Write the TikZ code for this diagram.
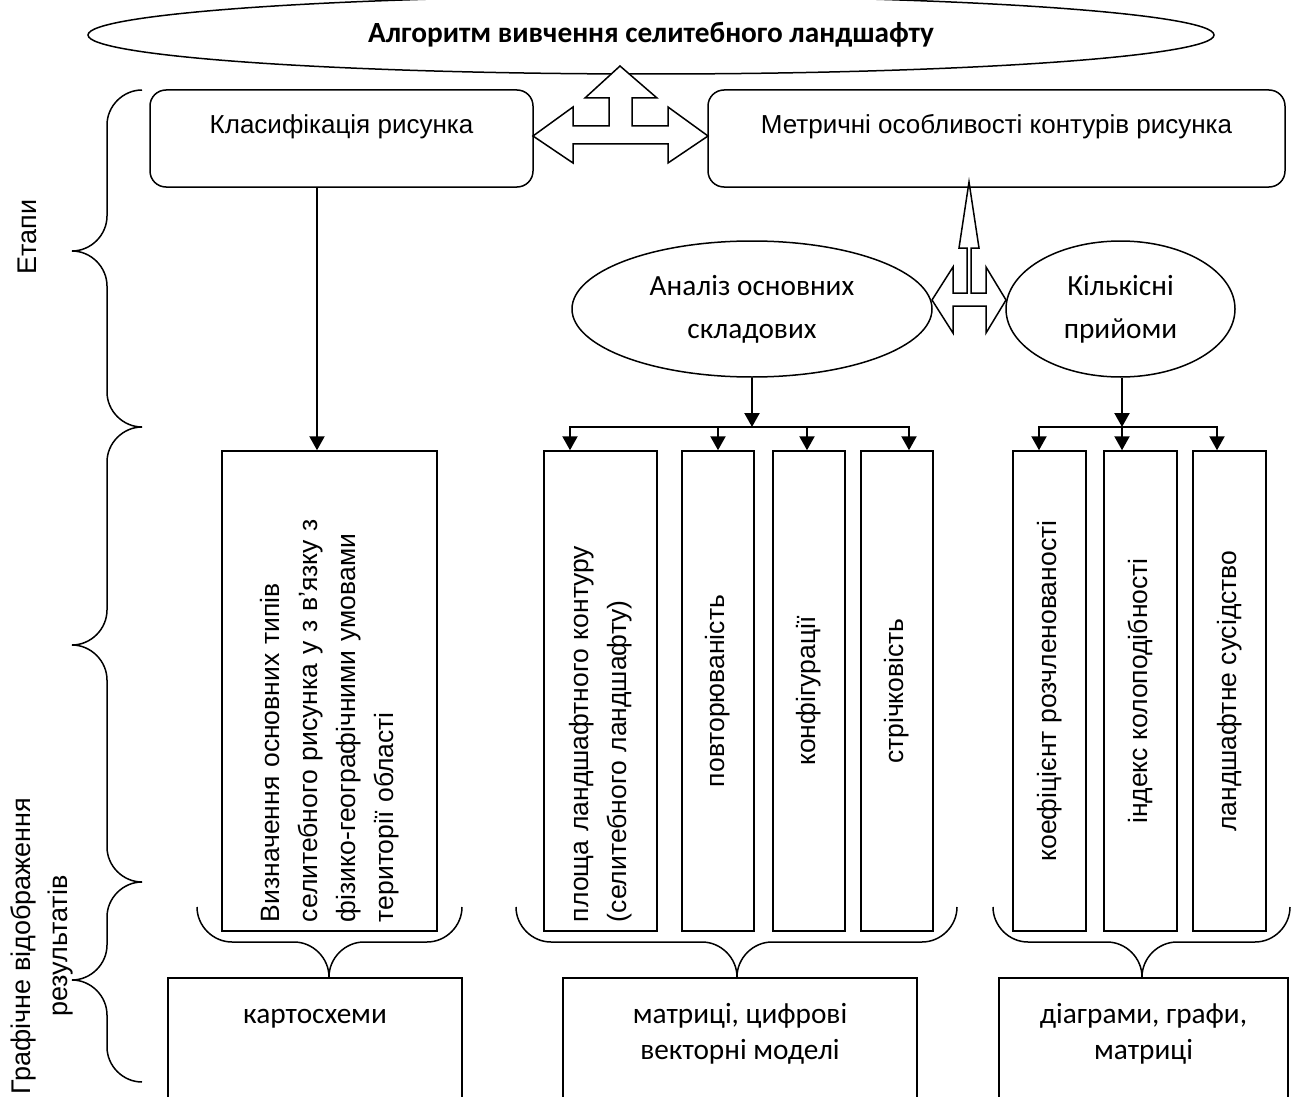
\documentclass[tikz,border=0pt]{standalone}
\usepackage{fontspec}
\setmainfont{Carlito}
\newfontfamily\arialf{Liberation Sans}
\usetikzlibrary{shapes.geometric,arrows.meta,positioning}

\tikzset{
  rbox/.style={draw, rounded corners=16pt, line width=1.5pt,
    font=\arialf\fontsize{26}{32}\selectfont, text height=20pt, text depth=30pt},
  oval/.style={draw, ellipse, line width=1.5pt, align=center, inner sep=0pt,
    font=\fontsize{29.3}{43}\selectfont},
  tallbox/.style={draw, rotate=90, minimum width=480pt, line width=1.5pt,
    font=\arialf\fontsize{26.5}{38}\selectfont, inner sep=0pt},
  lefttext/.style={align=left, text width=462pt, inner xsep=9pt},
  botbox/.style={draw, line width=1.5pt, minimum height=150pt, inner sep=0pt},
  bottxt/.style={align=center, inner sep=0pt, font=\fontsize{29.3}{36}\selectfont},
  arr/.style={line width=2.2pt, -{Triangle[length=14pt,width=15pt]}},
  brace/.style={line width=1.5pt},
  blockarrow/.style={draw, fill=white, line width=1.5pt, line join=miter},
  sidelabel/.style={rotate=90, align=center, inner sep=0pt,
    font=\arialf\fontsize{27}{37}\selectfont},
}

\begin{document}
\begin{tikzpicture}[x=1pt,y=-1pt]
  \useasboundingbox (0,0) rectangle (1293,1097);

  % title and stages
  \node[oval, minimum width=1126pt, minimum height=78pt,
    font=\bfseries\fontsize{29.3}{34}\selectfont] (title) at (651,35)
    {Алгоритм вивчення селитебного ландшафту};
  \node[rbox, minimum width=383pt, minimum height=97pt] (klas) at (341.5,138.5)
    {Класифікація рисунка};
  \node[rbox, minimum width=577pt, minimum height=97pt] (metr) at (996.5,138.5)
    {Метричні особливості контурів рисунка};

  \draw[blockarrow] (533,136) -- (573,107) -- (573,126) -- (609,126) -- (609,98)
    -- (585,98) -- (620,66) -- (657,98) -- (632,98) -- (632,126) -- (668,126)
    -- (668,107) -- (708,136) -- (668,163) -- (668,144) -- (573,144)
    -- (573,163) -- cycle;
  \draw[blockarrow] (969,182) -- (979,248) -- (971,248) -- (971,293) -- (986,293)
    -- (986,267) -- (1006,300) -- (986,333) -- (986,306) -- (953,306)
    -- (953,333) -- (932,300) -- (953,267) -- (953,293) -- (967,293)
    -- (967,248) -- (959,248) -- cycle;

  \node[oval, minimum width=360pt, minimum height=136pt] (analiz) at (752,309)
    {Аналіз основних\\складових};
  \node[oval, minimum width=229pt, minimum height=136pt] (kilk) at (1120.5,309)
    {Кількісні\\прийоми};

  % vertical boxes
  \node[tallbox, lefttext, minimum height=215pt] (vyzn) at (329.5,691)
    {Визначення основних типів\\селитебного рисунка у з в’язку з\\фізико-географічними умовами\\території області};
  \node[tallbox, lefttext, minimum height=113pt] (plos) at (600.5,691)
    {площа ландшафтного контуру\\(селитебного ландшафту)};
  \node[tallbox, minimum height=72pt] (povt) at (718,691) {повторюваність};
  \node[tallbox, minimum height=72pt] (konf) at (809,691) {конфігурації};
  \node[tallbox, minimum height=72pt] (strich) at (897,691) {стрічковість};
  \node[tallbox, minimum height=73pt] (koef) at (1049.5,691) {коефіцієнт розчленованості};
  \node[tallbox, minimum height=73pt] (indx) at (1140.5,691) {індекс колоподібності};
  \node[tallbox, minimum height=73pt] (susid) at (1229.5,691) {ландшафтне сусідство};

  \coordinate (ja) at (752,427);
  \coordinate (jb) at (1122,427);
  \draw[arr] ([xshift=-24.5pt]klas.south) -- ([xshift=-12.5pt]vyzn.east);
  \draw[arr] (analiz.south) -- (ja);
  \draw[arr] (ja) -| ([xshift=-30.5pt]plos.east);
  \draw[arr] (ja) -| (povt.east);
  \draw[arr] (ja) -| ([xshift=-2pt]konf.east);
  \draw[arr] (ja) -| ([xshift=12pt]strich.east);
  \draw[arr] (kilk.south -| jb) -- (jb);
  \draw[arr] (jb) -| ([xshift=-10.5pt]koef.east);
  \draw[arr] (jb) -| ([xshift=-18.5pt]indx.east);
  \draw[arr] (jb) -| ([xshift=-12.5pt]susid.east);

  % results
  \node[botbox, minimum width=294pt] (kart) at (315,1053) {};
  \node[botbox, minimum width=354pt] (matr) at (740,1053) {};
  \node[botbox, minimum width=289pt] (diag) at (1143.5,1053) {};
  \node[bottxt, below=21pt of kart.north] (kartt) {\strut картосхеми};
  \node[bottxt, below=21pt of matr.north] (matrt) {\strut матриці, цифрові\\векторні моделі};
  \node[bottxt, below=21pt of diag.north] (diagt) {\strut діаграми, графи,\\матриці};

  \draw[brace] (197,907) .. controls (197,926) and (213,942) .. (232,942) -- (294,942)
    .. controls (313,942) and (329,958) .. (329,977) .. controls (329,958) and (345,942) .. (364,942)
    -- (427,942) .. controls (446,942) and (462,926) .. (462,907);
  \draw[brace] (516,907) .. controls (516,926) and (532,942) .. (551,942) -- (702,942)
    .. controls (721,942) and (737,958) .. (737,977) .. controls (737,958) and (753,942) .. (772,942)
    -- (922,942) .. controls (941,942) and (957,926) .. (957,907);
  \draw[brace] (993,907) .. controls (993,926) and (1009,942) .. (1028,942) -- (1107,942)
    .. controls (1126,942) and (1142,958) .. (1142,977) .. controls (1142,958) and (1158,942) .. (1177,942)
    -- (1255,942) .. controls (1274,942) and (1290,926) .. (1290,907);

  % side braces
  \draw[brace] (142,90) .. controls (123,90) and (107,106) .. (107,125) -- (107,216)
    .. controls (107,235) and (91,251) .. (72,251) .. controls (91,251) and (107,267) .. (107,286)
    -- (107,392) .. controls (107,411) and (123,427) .. (142,427);
  \draw[brace] (142,427) .. controls (123,427) and (107,443) .. (107,462) -- (107,610)
    .. controls (107,629) and (91,645) .. (72,645) .. controls (91,645) and (107,661) .. (107,680)
    -- (107,847) .. controls (107,866) and (123,882) .. (142,882);
  \draw[brace] (142,882) .. controls (123,882) and (107,898) .. (107,917) -- (107,945)
    .. controls (107,964) and (91,980) .. (72,980) .. controls (91,980) and (107,996) .. (107,1015)
    -- (107,1047) .. controls (107,1066) and (123,1082) .. (142,1082);

  \node[sidelabel] (etapy) at (27,237) {Етапи};
  \node[sidelabel] (grafvid) at (42,946) {Графічне відображення\\результатів};
\end{tikzpicture}
\end{document}
